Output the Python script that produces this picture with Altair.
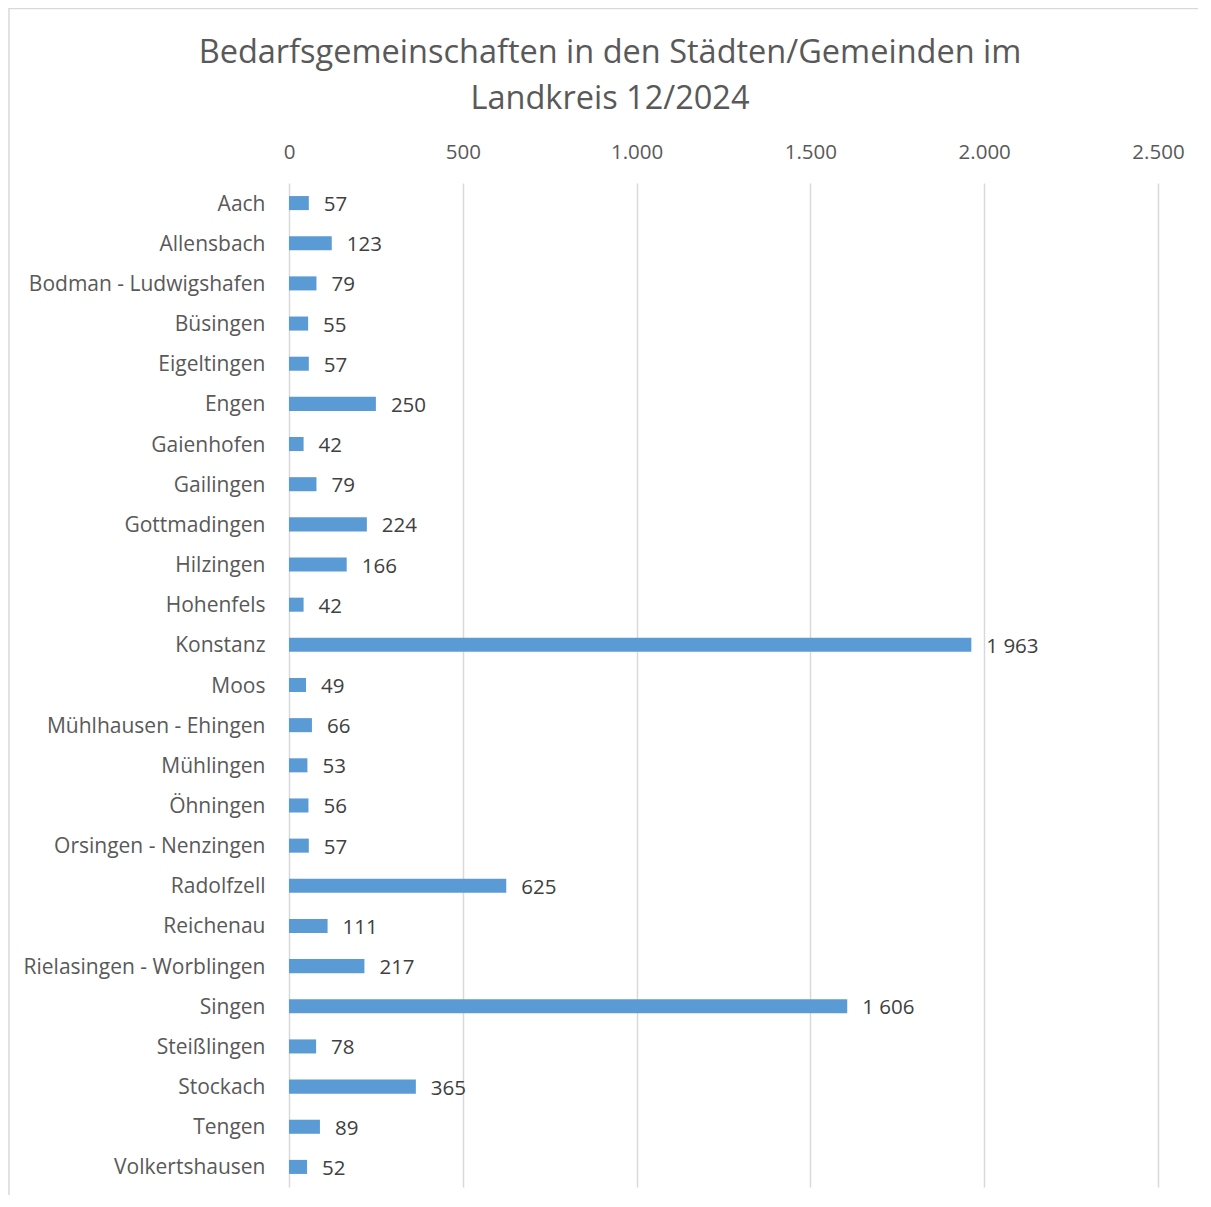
import altair as alt
import pandas as pd

names = ["Aach", "Allensbach", "Bodman - Ludwigshafen", "Büsingen", "Eigeltingen",
         "Engen", "Gaienhofen", "Gailingen", "Gottmadingen", "Hilzingen", "Hohenfels",
         "Konstanz", "Moos", "Mühlhausen - Ehingen", "Mühlingen", "Öhningen",
         "Orsingen - Nenzingen", "Radolfzell", "Reichenau", "Rielasingen - Worblingen",
         "Singen", "Steißlingen", "Stockach", "Tengen", "Volkertshausen"]
values = [57, 123, 79, 55, 57, 250, 42, 79, 224, 166, 42, 1963, 49, 66, 53, 56, 57,
          625, 111, 217, 1606, 78, 365, 89, 52]
tick_values = [0, 500, 1000, 1500, 2000, 2500]
title_lines = ["Bedarfsgemeinschaften in den Städten/Gemeinden im", "Landkreis 12/2024"]

labels = [f"{v:,}".replace(",", " ") for v in values]
df = pd.DataFrame({"name": names, "value": values, "label": labels})
df_title = pd.DataFrame({"line": title_lines, "ypos": [-120, -74]})
df_one = pd.DataFrame({"a": [0]})

W, H = 869, 1004
PAD_L, PAD_T = 281, 175
FONT = "Open Sans"

xenc = alt.X("value:Q",
             scale=alt.Scale(domain=[0, 2500], nice=False),
             axis=alt.Axis(orient="top", values=tick_values, title=None,
                           labelExpr="replace(format(datum.value, ','), ',', '.')",
                           grid=True, gridColor="#d9d9d9", gridWidth=1.5,
                           domain=False, ticks=False, tickSize=0, labelPadding=21,
                           labelFlush=False,
                           labelFontSize=20.5, labelColor="#595959", labelFont=FONT))
yenc = alt.Y("name:N", sort=names,
             scale=alt.Scale(paddingInner=0.65, paddingOuter=0.325),
             axis=alt.Axis(title=None, ticks=False, tickSize=0, domain=False,
                           labelPadding=24, labelFontSize=21, labelColor="#595959",
                           labelOffset=1.5,
                           labelFont=FONT, labelLimit=400))

bars = alt.Chart(df).mark_bar(color="#5B9BD5").encode(x=xenc, y=yenc)
text = alt.Chart(df).mark_text(align="left", baseline="middle", dx=15, dy=2,
                               fontSize=20.5, font=FONT, color="#404040").encode(
    x="value:Q", y=alt.Y("name:N", sort=names), text="label:N")

title = alt.Chart(df_title).mark_text(align="center", baseline="alphabetic",
                                      fontSize=32.5, font=FONT, color="#595959").encode(
    x=alt.value(321), y=alt.Y("ypos:Q", scale=None), text="line:N")

border_left = alt.Chart(df_one).mark_rule(color="#d9d9d9", strokeWidth=1.5).encode(
    x=alt.value(-280), y=alt.value(-175), y2=alt.value(H + 20))
border_top = alt.Chart(df_one).mark_rule(color="#d9d9d9", strokeWidth=1.5).encode(
    x=alt.value(-280), x2=alt.value(W + 60), y=alt.value(-174.5))

chart = alt.layer(border_left, border_top, bars, text, title).properties(
    width=W, height=H,
    background="white",
    padding={"left": PAD_L, "top": PAD_T, "right": 40, "bottom": 8},
    autosize=alt.AutoSizeParams(type="none"),
).configure_view(stroke=None)

chart.save("out.html", embed_options={"renderer": "svg", "actions": False})
